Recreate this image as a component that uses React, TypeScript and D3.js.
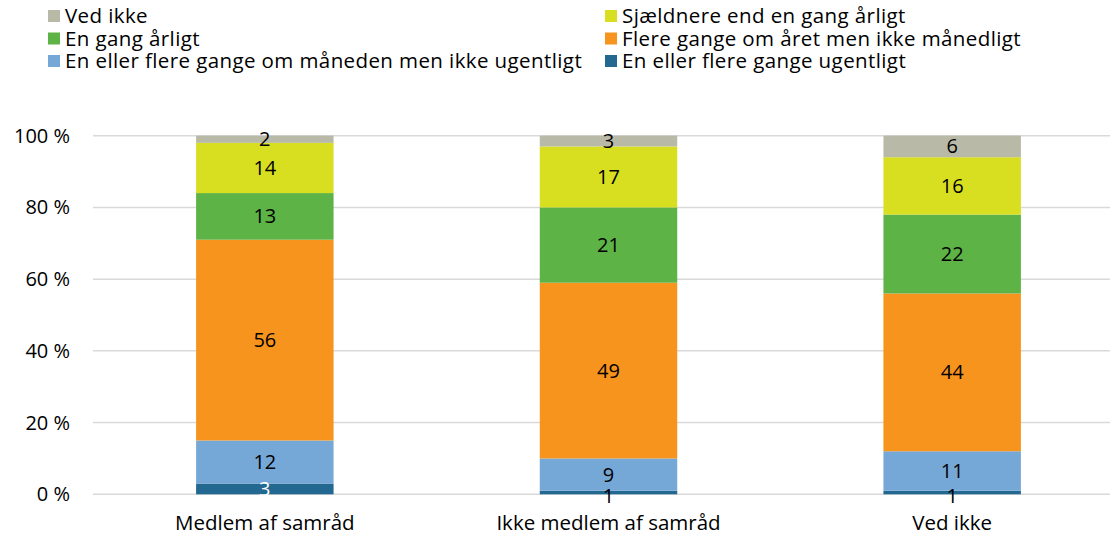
import React from "react";
import * as d3 from "d3";

const groups = ["Medlem af samråd", "Ikke medlem af samråd", "Ved ikke"];

// stacked bottom to top
const seriesNames = [
  "En eller flere gange ugentligt",
  "En eller flere gange om måneden men ikke ugentligt",
  "Flere gange om året men ikke månedligt",
  "En gang årligt",
  "Sjældnere end en gang årligt",
  "Ved ikke",
];
const weekly = [3, 1, 1];
const monthly = [12, 9, 11];
const yearlySeveral = [56, 49, 44];
const yearlyOnce = [13, 21, 22];
const rarer = [14, 17, 16];
const dontKnow = [2, 3, 6];
const seriesValues = [weekly, monthly, yearlySeveral, yearlyOnce, rarer, dontKnow];

const colors = ["#236891", "#76a8d7", "#f7941d", "#5db346", "#d8df21", "#b9b9a8"];

const yTicks = [0, 20, 40, 60, 80, 100];

// legend layout order (row-major, two columns)
const legendOrder = [5, 4, 3, 2, 1, 0];

const W = 1110;
const H = 536;
const FONT = "'Open Sans', sans-serif";

export default function App() {
  const x = d3
    .scaleBand()
    .domain(groups)
    .range([93, 1124])
    .paddingInner(0.6)
    .paddingOuter(0.3);
  const y = d3.scaleLinear().domain([0, 100]).range([494.3, 135.7]);

  const rows = groups.map((g, i) => {
    const r: any = { group: g };
    seriesNames.forEach((s, k) => (r[s] = seriesValues[k][i]));
    return r;
  });
  const stacked = d3.stack().keys(seriesNames)(rows);

  return (
    <svg
      width={W}
      height={H}
      style={{ position: "absolute", left: 0, top: 0, fontFamily: FONT }}
    >
      <rect width={W} height={H} fill="#fff" />
      {yTicks.map((t) => (
        <g key={t}>
          <line x1={93} x2={W} y1={y(t)} y2={y(t)} stroke="#d9d9d9" strokeWidth={1.5} />
          <text x={70} y={y(t)} dy="0.35em" textAnchor="end" fontSize={20} fill="#000">
            {t} %
          </text>
        </g>
      ))}
      {stacked.map((layer, k) => (
        <g key={layer.key} fill={colors[k]}>
          {layer.map((d, i) => (
            <rect
              key={i}
              x={x(groups[i])}
              width={x.bandwidth()}
              y={y(d[1])}
              height={y(d[0]) - y(d[1])}
            />
          ))}
        </g>
      ))}
      {stacked.map((layer, k) =>
        layer.map((d, i) => {
          const v = d[1] - d[0];
          const small = k === 0 && v < 2;
          return (
            <text
              key={layer.key + i}
              x={(x(groups[i]) as number) + x.bandwidth() / 2}
              y={y((d[0] + d[1]) / 2) + (small ? 3 : 0)}
              dy="0.35em"
              textAnchor="middle"
              fontSize={20}
              fill={k === 0 && !small ? "#ffffff" : "#000"}
            >
              {v}
            </text>
          );
        })
      )}
      {groups.map((g) => (
        <text
          key={g}
          x={(x(g) as number) + x.bandwidth() / 2}
          y={530}
          textAnchor="middle"
          fontSize={20.5}
          fill="#000"
        >
          {g}
        </text>
      ))}
      {legendOrder.map((k, j) => {
        const col = j % 2;
        const row = Math.floor(j / 2);
        const lx = col === 0 ? 48 : 605;
        const ly = 16 + row * 22.5;
        return (
          <g key={k}>
            <rect x={lx} y={ly - 6} width={12} height={12} fill={colors[k]} />
            <text
              x={lx + 17}
              y={ly}
              dy="0.35em"
              fontSize={20.5}
              letterSpacing={0.4}
              fill="#000"
            >
              {seriesNames[k]}
            </text>
          </g>
        );
      })}
    </svg>
  );
}
